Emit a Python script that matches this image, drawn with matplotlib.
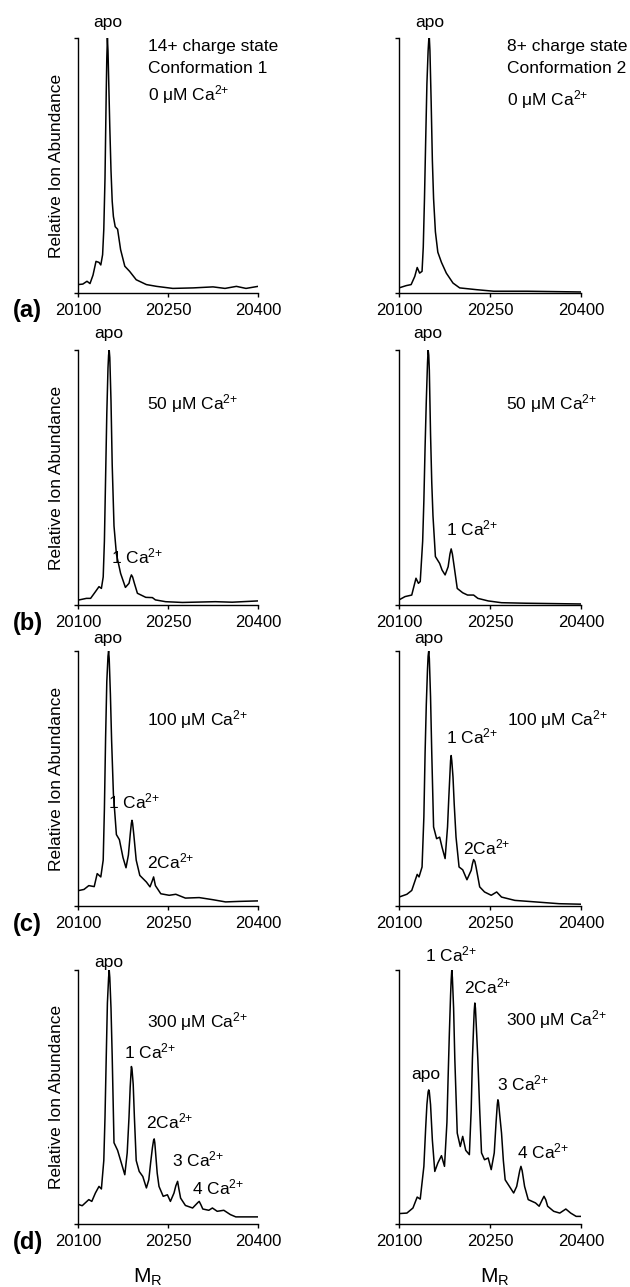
import numpy as np
import matplotlib
matplotlib.use("Agg")
import matplotlib.pyplot as plt

plt.rcParams['font.family'] = ['Liberation Sans', 'DejaVu Sans']
plt.rcParams['mathtext.fontset'] = 'custom'
plt.rcParams['mathtext.rm'] = 'Liberation Sans'
plt.rcParams['mathtext.it'] = 'Liberation Sans:italic'
plt.rcParams['mathtext.bf'] = 'Liberation Sans:bold'

# traced spectra: mass (Da) and relative abundance (% of base peak)
# (a) 0 uM Ca, conformation 1 (14+) / conformation 2 (8+)
a1_mass = [20100, 20108, 20115, 20120, 20125, 20130, 20135, 20138, 20141, 20143, 20145, 20147,
           20148, 20149, 20150, 20151, 20153, 20155, 20157, 20159, 20162, 20166, 20171, 20178,
           20186, 20197, 20214, 20231, 20258, 20292, 20325, 20345, 20364, 20380, 20400]
a1_int = [3.3, 3.5, 4.6, 3.7, 7, 12.4, 12, 11, 15, 25, 45, 78,
          92, 100, 95, 85, 65, 48, 36, 30, 26, 25, 17, 10.5,
          8.5, 5.2, 3.3, 2.6, 1.8, 2.0, 2.4, 1.8, 2.6, 1.8, 2.6]
a2_mass = [20100, 20112, 20120, 20126, 20130, 20134, 20138, 20140, 20142, 20144, 20146, 20148,
           20149, 20150, 20151, 20153, 20155, 20157, 20160, 20164, 20170, 20178, 20189, 20200,
           20228, 20256, 20311, 20400]
a2_int = [2.0, 2.9, 3.3, 6.5, 10, 7.8, 8.5, 18, 37, 60, 82, 95,
          99, 100, 95, 75, 52, 37, 24, 16, 12, 7.8, 3.9, 2.0,
          1.3, 0.7, 0.7, 0.4]

# (b) 50 uM Ca
b1_mass = [20102, 20114, 20121, 20129, 20135, 20139, 20142, 20144, 20146, 20148, 20150, 20151,
           20152, 20153, 20155, 20157, 20160, 20164, 20171, 20179, 20185, 20187, 20189, 20191,
           20194, 20199, 20213, 20224, 20229, 20246, 20274, 20329, 20357, 20400]
b1_int = [2.0, 2.6, 2.6, 5.2, 7.2, 6.5, 11, 25, 50, 75, 93, 98,
          100, 97, 80, 55, 31, 20, 12.4, 6.9, 8.5, 10.5, 11.8, 11,
          8.5, 4.6, 3.0, 2.9, 2.0, 1.3, 1.0, 1.3, 1.1, 1.6]
b2_mass = [20100, 20110, 20121, 20128, 20132, 20135, 20139, 20141, 20143, 20145, 20147, 20148,
           20149, 20150, 20152, 20154, 20156, 20160, 20167, 20171, 20176, 20181, 20184, 20186,
           20188, 20191, 20196, 20205, 20213, 20223, 20230, 20247, 20269, 20308, 20400]
b2_int = [2.0, 3.3, 3.9, 10.5, 8.5, 9.2, 25, 41, 62, 80, 95, 100,
          98, 92, 67, 48, 35, 19, 16.3, 13.7, 11.8, 15, 20, 22,
          20, 15, 6.5, 4.8, 3.9, 3.9, 2.6, 1.6, 0.9, 0.7, 0.4]

# (c) 100 uM Ca
c1_mass = [20102, 20110, 20118, 20127, 20132, 20138, 20142, 20144, 20146, 20148, 20150, 20151,
           20152, 20154, 20156, 20159, 20164, 20169, 20175, 20180, 20184, 20187, 20189, 20190,
           20191, 20193, 20197, 20203, 20214, 20220, 20224, 20226, 20229, 20238, 20252, 20263,
           20279, 20302, 20324, 20346, 20368, 20400]
c1_int = [6.1, 6.5, 8.0, 7.6, 12.7, 11.4, 18, 38, 66, 88, 98, 100,
          97, 83, 65, 44, 28, 26, 19, 15, 20, 28, 32.5, 33.6,
          32.5, 28, 18, 12, 9.4, 7.5, 10, 11.4, 8.0, 4.8, 4.2, 4.6,
          3.1, 3.3, 2.5, 1.6, 1.8, 2.0]
c2_mass = [20100, 20113, 20121, 20130, 20133, 20138, 20141, 20143, 20145, 20147, 20148, 20149,
           20150, 20152, 20154, 20157, 20162, 20167, 20171, 20176, 20180, 20182, 20184, 20185,
           20186, 20187, 20189, 20191, 20194, 20199, 20205, 20212, 20219, 20221, 20223, 20225,
           20227, 20233, 20241, 20252, 20261, 20269, 20291, 20325, 20364, 20400]
c2_int = [3.5, 4.6, 6.1, 12.4, 11.4, 15.3, 35, 60, 79, 93, 98, 100,
          97, 82, 60, 31, 26.4, 27, 23, 18.6, 31, 42, 52, 57,
          59, 57, 50.6, 40, 27, 15.3, 14.2, 10.3, 14, 16.5, 18.2, 17.5,
          15.3, 7.5, 5.5, 4.2, 5.5, 3.5, 2.2, 1.6, 0.9, 0.7]

# (d) 300 uM Ca
d1_mass = [20102, 20107, 20118, 20123, 20129, 20135, 20139, 20143, 20145, 20147, 20149, 20151,
           20152, 20153, 20155, 20157, 20160, 20166, 20171, 20178, 20182, 20185, 20187, 20189,
           20190, 20192, 20194, 20197, 20202, 20208, 20214, 20218, 20221, 20224, 20226, 20227,
           20228, 20230, 20232, 20235, 20242, 20249, 20254, 20260, 20263, 20266, 20268, 20271,
           20279, 20291, 20300, 20302, 20305, 20308, 20318, 20324, 20332, 20343, 20354, 20363,
           20379, 20400]
d1_int = [7.6, 7.2, 9.6, 8.9, 12.2, 14.8, 13.8, 25, 42, 65, 87, 97,
          100, 97, 85, 66, 32, 29, 25, 19.4, 28, 42, 54, 62,
          61, 55, 42, 25, 20.7, 18.7, 14.2, 17.4, 24, 30, 33, 33.5,
          32, 26, 20, 14.8, 10.9, 11.5, 8.9, 12.2, 15, 16.8, 14, 10.2,
          7.3, 6.3, 8.5, 8.9, 7.5, 5.9, 5.4, 6.3, 5.0, 5.4, 3.7, 2.8,
          2.8, 2.8]
d2_mass = [20100, 20113, 20123, 20130, 20135, 20141, 20144, 20146, 20148, 20149, 20150, 20152,
           20155, 20159, 20164, 20170, 20175, 20179, 20181, 20183, 20185, 20186, 20187, 20188,
           20190, 20192, 20196, 20201, 20205, 20210, 20216, 20219, 20221, 20223, 20224, 20225,
           20226, 20228, 20230, 20233, 20236, 20241, 20247, 20252, 20257, 20260, 20262, 20263,
           20264, 20266, 20269, 20272, 20275, 20282, 20289, 20294, 20299, 20301, 20303, 20307,
           20313, 20325, 20331, 20336, 20339, 20342, 20345, 20355, 20365, 20375, 20383, 20392,
           20400]
d2_int = [4.1, 4.3, 6.3, 10.6, 9.8, 22.7, 38, 47, 52, 52.8, 52, 47,
          33, 20.7, 24, 26.9, 22.7, 40, 58, 75, 90, 96, 100, 97,
          85, 65, 35.8, 30.5, 34.5, 29, 27.3, 45, 65, 78, 84, 87,
          85, 75, 64.6, 45, 28, 25.3, 26, 21.4, 28, 40, 47, 48.9,
          48, 43, 35.8, 25, 17.4, 14.8, 12.2, 14.8, 21, 22.7, 21, 14.8,
          9.6, 8.3, 7.0, 9.5, 10.9, 9.5, 7.0, 5.0, 4.3, 5.9, 4.3, 3.0,
          3.0]

xticks = [20100, 20250, 20400]
row_names = ['(a)', '(b)', '(c)', '(d)']

# peak labels: (text, x, y, ha)
ca1 = '1 Ca$^{2{+}}$'
ca2 = '2Ca$^{2{+}}$'
ca3 = '3 Ca$^{2{+}}$'
ca4 = '4 Ca$^{2{+}}$'
labels = {
    (0, 0): [('apo', 20149, 106, 'center'), ('14+ charge state', 20217, 96.5, 'left'),
             ('Conformation 1', 20217, 88, 'left'), ('0 μM Ca$^{2{+}}$', 20217, 77.8, 'left')],
    (0, 1): [('apo', 20150, 106, 'center'), ('8+ charge state', 20278, 96.5, 'left'),
             ('Conformation 2', 20278, 88, 'left'), ('0 μM Ca$^{2{+}}$', 20278, 75.8, 'left')],
    (1, 0): [('apo', 20152, 106.5, 'center'), ('50 μM Ca$^{2{+}}$', 20215, 79, 'left'),
             (ca1, 20155, 19, 'left')],
    (1, 1): [('apo', 20148, 106.5, 'center'), ('50 μM Ca$^{2{+}}$', 20276, 79, 'left'),
             (ca1, 20178, 30, 'left')],
    (2, 0): [('apo', 20150, 105, 'center'), ('100 μM Ca$^{2{+}}$', 20215, 73, 'left'),
             (ca1, 20150, 41, 'left'), (ca2, 20215, 17.6, 'left')],
    (2, 1): [('apo', 20149, 105, 'center'), ('100 μM Ca$^{2{+}}$', 20278, 73, 'left'),
             (ca1, 20177, 66.5, 'left'), (ca2, 20206, 23, 'left')],
    (3, 0): [('apo', 20151, 103, 'center'), ('300 μM Ca$^{2{+}}$', 20215, 79.7, 'left'),
             (ca1, 20176, 67.9, 'left'), (ca2, 20214, 40.4, 'left'),
             (ca3, 20257, 25.3, 'left'), (ca4, 20290, 14.2, 'left')],
    (3, 1): [(ca1, 20143, 106, 'left'), (ca2, 20207, 93.7, 'left'),
             ('300 μM Ca$^{2{+}}$', 20277, 80.3, 'left'), ('apo', 20121, 58.7, 'left'),
             (ca3, 20262, 55.4, 'left'), (ca4, 20294, 28.6, 'left')],
}

spectra = [[(a1_mass, a1_int), (a2_mass, a2_int)],
           [(b1_mass, b1_int), (b2_mass, b2_int)],
           [(c1_mass, c1_int), (c2_mass, c2_int)],
           [(d1_mass, d1_int), (d2_mass, d2_int)]]

W, H = 630, 1287
fig = plt.figure(figsize=(W / 100, H / 100), dpi=100)

col_px = [(78, 180), (399, 182)]
row_px = [(38, 293), (350, 605), (651, 906), (970, 1224)]

for r in range(4):
    top, bot = row_px[r]
    for c in range(2):
        left, width = col_px[c]
        ax = fig.add_axes([left / W, 1 - bot / H, width / W, (bot - top) / H])
        m, y = spectra[r][c]
        ax.plot(m, y, color='black', lw=1.1)
        ax.set_xlim(20100, 20400)
        ax.set_ylim(0, 100)
        ax.set_xticks(xticks)
        ax.set_xticklabels([str(t) for t in xticks], fontsize=12)
        ax.set_yticks([0, 100])
        ax.set_yticklabels([])
        ax.tick_params(direction='out', length=3, width=1, pad=4, colors='black')
        for s in ['top', 'right']:
            ax.spines[s].set_visible(False)
        for s in ['left', 'bottom']:
            ax.spines[s].set_linewidth(1)
        if c == 0:
            ax.set_ylabel('Relative Ion Abundance', fontsize=12.5, labelpad=3)
        for txt, x, yy, ha in labels[(r, c)]:
            ax.text(x, yy, txt, ha=ha, va='center', fontsize=12.5, clip_on=False)
    # panel letter
    fig.text(13 / W, 1 - (bot + 18) / H, row_names[r], fontsize=17, fontweight='bold',
             ha='left', va='center')

fig.text(148 / W, 1 - 1277 / H, r'M$_\mathregular{R}$', fontsize=15, ha='center', va='center')
fig.text(495 / W, 1 - 1277 / H, r'M$_\mathregular{R}$', fontsize=15, ha='center', va='center')

fig.savefig('out.png', dpi=100)
